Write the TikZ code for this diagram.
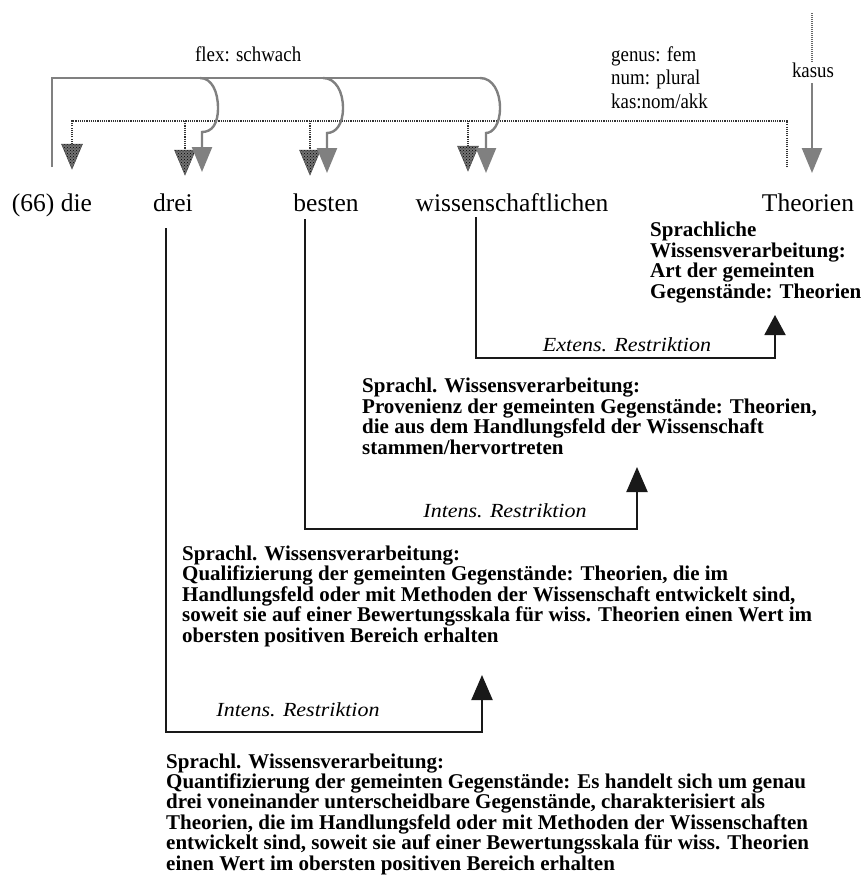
\documentclass[tikz,border=0pt]{standalone}
\usepackage{fontspec}
\setmainfont{Liberation Serif}
\newfontfamily\narrowserif{Liberation Serif}[FakeStretch=0.9]
\newfontfamily\wideserif{Liberation Serif}[FakeStretch=1.1]
\usetikzlibrary{arrows.meta,patterns}

% multi-line nodes are anchored at the baseline of their last line
\tikzset{
  word/.style={font=\fontsize{25.5}{30}\selectfont, inner sep=0pt, anchor=base},
  tag/.style={font=\narrowserif\fontsize{21}{23.5}\selectfont, inner sep=0pt, anchor=base west, align=left},
  gloss/.style={font=\bfseries\fontsize{21}{20.4}\selectfont, inner sep=0pt, anchor=base west, align=left},
  restr/.style={font=\wideserif\itshape\fontsize{20}{22}\selectfont, inner sep=0pt, anchor=base},
  agree/.style={draw=black!50, line width=2.4pt},
  feat/.style={draw=black!80, line width=2.6pt, dash pattern=on 1.1pt off 1.1pt},
  kasfeat/.style={draw=black!60, line width=2pt, dash pattern=on 1pt off 1pt},
  link/.style={draw=black!90, line width=2pt},
  grayhead/.style={-{Triangle[width=20pt,length=25pt]}},
  blackhead/.style={-{Triangle[width=21pt,length=25pt]}},
  chk/.pic={
    \path[fill=black!55] (-10.5,0) -- (10.5,0) -- (0,25) -- cycle;
    \path[pattern=crosshatch dots, pattern color=black] (-10.5,0) -- (10.5,0) -- (0,25) -- cycle;
    \draw[black!70, line width=0.5pt] (-10.5,0) -- (10.5,0) -- (0,25) -- cycle;
  }
}

\begin{document}
\begin{tikzpicture}[x=1pt,y=-1pt]
\useasboundingbox (0,0) rectangle (864,878);

% words of the phrase
\node[word] (w1) at (52,211) {(66) die};
\node[word] (w2) at (173,211) {drei};
\node[word] (w3) at (326,211) {besten};
\node[word] (w4) at (512,211) {wissenschaftlichen};
\node[word] (w5) at (808,211) {Theorien};

% feature labels
\node[tag] (flex) at (195,61) {flex: schwach};
\node[tag] (feats) at (611,108) {genus: fem\\num: plural\\kas:nom/akk};
\node[tag, anchor=base] (kas) at (813,77) {kasus};

% feature passing (dotted)
\coordinate (fdie) at (72,144);
\coordinate (fend) at (787,167);
\draw[feat] (fdie) -- (72,121) -- (787,121) -- (fend);
\coordinate (fdrei) at (185,150);
\coordinate (fbest) at (310,150);
\coordinate (fwiss) at (468,146);
\draw[feat] (185,121) -- (fdrei);
\draw[feat] (310,121) -- (fbest);
\draw[feat] (468,121) -- (fwiss);
\pic at (fdie) {chk};
\pic at (fdrei) {chk};
\pic at (fbest) {chk};
\pic at (fwiss) {chk};

% case government
\coordinate (ktop) at (812,13);
\coordinate (kin) at (812,63);
\coordinate (kout) at (812,83);
\coordinate (kend) at (812,173);
\draw[kasfeat] (ktop) -- (kin);
\draw[agree, grayhead] (kout) -- (kend);

% inflection agreement (gray)
\coordinate (gdie) at (52,167);
\coordinate (gdrei) at (202,172);
\coordinate (gbest) at (327,173);
\coordinate (gwiss) at (486,173);
\draw[agree] (gdie) -- (52,78) -- (480,78);
\draw[agree, grayhead] (200,78) .. controls (212,78) and (218,92) .. (218,108)
  .. controls (218,124) and (212,132) .. (202,132) -- (gdrei);
\draw[agree, grayhead] (323,78) .. controls (336,78) and (343,92) .. (343,108)
  .. controls (343,124) and (336,133) .. (327,133) -- (gbest);
\draw[agree, grayhead] (480,78) .. controls (493,78) and (500,92) .. (500,108)
  .. controls (500,124) and (493,133) .. (486,133) -- (gwiss);

% knowledge processing glosses
\node[gloss] (gA) at (650,298) {Sprachliche\\Wissensverarbeitung:\\Art der gemeinten\\Gegenstände: Theorien};
\node[gloss] (gB) at (362,454) {Sprachl. Wissensverarbeitung:\\Provenienz der gemeinten Gegenstände: Theorien,\\die aus dem Handlungsfeld der Wissenschaft\\stammen/hervortreten};
\node[gloss] (gC) at (182,642) {Sprachl. Wissensverarbeitung:\\Qualifizierung der gemeinten Gegenstände: Theorien, die im\\Handlungsfeld oder mit Methoden der Wissenschaft entwickelt sind,\\soweit sie auf einer Bewertungsskala für wiss. Theorien einen Wert im\\obersten positiven Bereich erhalten};
\node[gloss] (gD) at (166,870) {Sprachl. Wissensverarbeitung:\\Quantifizierung der gemeinten Gegenstände: Es handelt sich um genau\\drei voneinander unterscheidbare Gegenstände, charakterisiert als\\Theorien, die im Handlungsfeld oder mit Methoden der Wissenschaften\\entwickelt sind, soweit sie auf einer Bewertungsskala für wiss. Theorien\\einen Wert im obersten positiven Bereich erhalten};

% restriction links
\coordinate (rwiss) at (476,217);
\coordinate (cwiss) at (476,358);
\coordinate (twiss) at (775,315);
\draw[link, -{Triangle[width=21pt,length=20pt]}] (rwiss) -- (cwiss) -| (twiss);
\node[restr] (rA) at (627,351) {Extens. Restriktion};

\coordinate (rbest) at (305,219);
\coordinate (cbest) at (305,529);
\coordinate (tbest) at (637,467);
\draw[link, blackhead] (rbest) -- (cbest) -| (tbest);
\node[restr] (rB) at (505,517) {Intens. Restriktion};

\coordinate (rdrei) at (166,228);
\coordinate (cdrei) at (166,732);
\coordinate (tdrei) at (482,675);
\draw[link, blackhead] (rdrei) -- (cdrei) -| (tdrei);
\node[restr] (rC) at (298,716) {Intens. Restriktion};
\end{tikzpicture}
\end{document}
